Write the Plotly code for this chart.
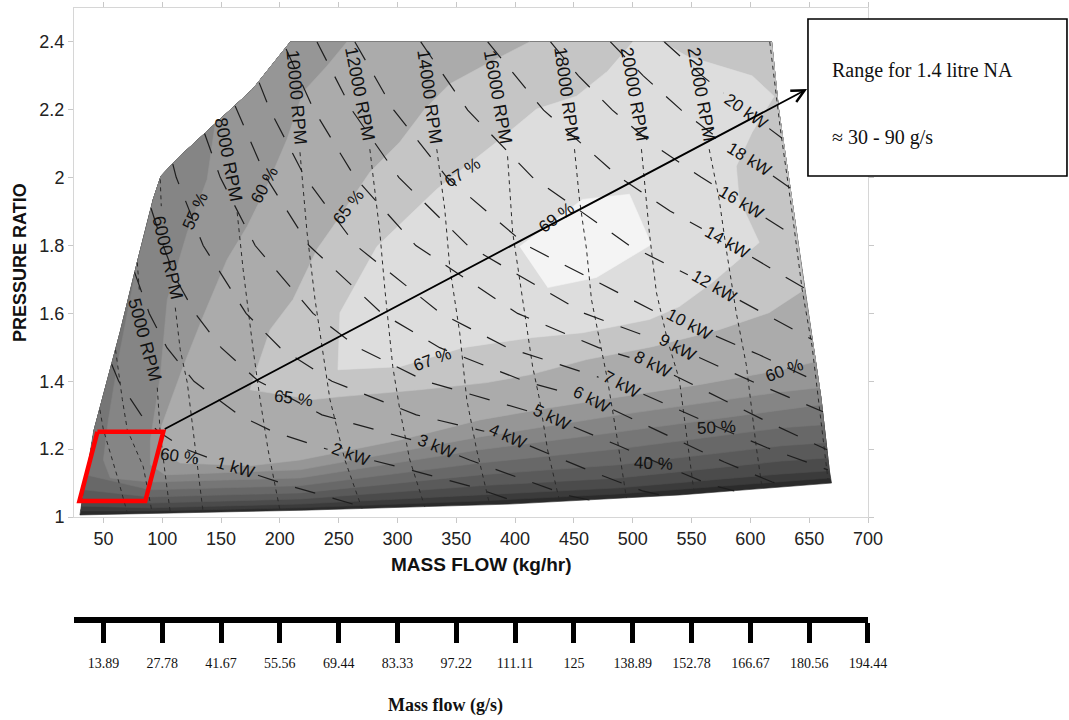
import math
import plotly.graph_objects as go

SANS = "Liberation Sans, Arial, sans-serif"
SERIF = "Liberation Serif, Times New Roman, serif"

# ---------------- map envelope (mass flow kg/hr, pressure ratio) ----------------
ENV_RIGHT_M = [669, 667, 660, 654, 646, 635, 624, 618]
ENV_RIGHT_PR = [1.10, 1.14, 1.35, 1.49, 1.67, 1.94, 2.20, 2.40]
ENV_LEFT_M = [209, 177, 143, 115, 99, 92.4, 78.8, 64.4, 41.5, 30]
ENV_LEFT_PR = [2.40, 2.261, 2.152, 2.063, 2.005, 1.936, 1.750, 1.546, 1.248, 1.006]
ENV_BOTTOM_M = [30, 220, 395, 540, 669]
ENV_BOTTOM_PR = [1.006, 1.02, 1.038, 1.065, 1.10]

# ---------------- efficiency contour boundaries ----------------
C25_M = [30.6, 89.9, 217.1, 369.9, 488.7, 627.0, 667.8]
C25_PR = [1.018, 1.018, 1.027, 1.047, 1.068, 1.103, 1.115]
C30_M = [31.2, 89.9, 217.1, 369.9, 488.7, 627.0, 667.0]
C30_PR = [1.032, 1.027, 1.038, 1.065, 1.086, 1.127, 1.136]
C35_M = [32.1, 89.9, 217.1, 369.9, 488.7, 627.0, 665.7]
C35_PR = [1.050, 1.041, 1.053, 1.092, 1.115, 1.165, 1.174]
C40_M = [33.8, 89.9, 217.1, 369.9, 488.7, 627.0, 664.3]
C40_PR = [1.080, 1.059, 1.071, 1.124, 1.154, 1.210, 1.219]
C45_M = [35.6, 89.9, 217.1, 369.9, 488.7, 627.0, 662.6]
C45_PR = [1.124, 1.080, 1.092, 1.159, 1.201, 1.263, 1.272]
C50_M = [78.8, 71.2, 62.7, 54.2, 50.0, 55.9, 89.9, 217.1, 369.9, 488.7, 627.0, 660.6]
C50_PR = [1.750, 1.611, 1.464, 1.286, 1.168, 1.115, 1.103, 1.115, 1.198, 1.251, 1.316, 1.331]
C55_M = [145.0, 138.2, 121.3, 104.3, 98.3, 89.9, 89.9, 102.6, 217.1, 369.9, 488.7, 627.0, 658.7]
C55_PR = [2.158, 1.995, 1.839, 1.641, 1.413, 1.227, 1.154, 1.124, 1.139, 1.236, 1.301, 1.369, 1.381]
C60_M = [257.0, 240.1, 219.7, 206.1, 189.1, 172.2, 155.2, 134.8, 117.8, 98.3, 100.1, 115.3,
         174.7, 217.1, 302.0, 369.9, 429.3, 488.7, 556.5, 627.0, 655.6]
C60_PR = [2.400, 2.329, 2.252, 2.113, 1.975, 1.856, 1.759, 1.591, 1.443, 1.257, 1.192, 1.159,
          1.151, 1.168, 1.227, 1.286, 1.322, 1.354, 1.390, 1.434, 1.458]
C65_M = [412.3, 375.8, 344.4, 323.2, 302.0, 276.5, 245.2, 231.6, 211.2, 191.7, 176.4, 174.7,
         228.2, 249.4, 319.0, 375.8, 412.3, 460.7, 516.7, 573.5, 615.9, 645.7]
C65_PR = [2.400, 2.335, 2.276, 2.202, 2.105, 2.016, 1.856, 1.789, 1.641, 1.552, 1.396, 1.375,
          1.346, 1.354, 1.375, 1.396, 1.419, 1.464, 1.502, 1.552, 1.602, 1.670]
C67_M = [499.7, 525.1, 545.5, 601.5, 620.2, 601.5, 588.0, 590.5, 607.5, 590.5, 567.6, 539.6, 514.1,
         457.3, 414.8, 355.4, 302.0, 249.4, 251.1, 282.5, 333.4, 384.3, 418.2, 452.2, 477.6]
C67_PR = [2.400, 2.400, 2.359, 2.300, 2.240, 2.134, 2.034, 1.936, 1.809, 1.759, 1.691, 1.620, 1.582,
          1.543, 1.529, 1.499, 1.443, 1.434, 1.602, 1.797, 1.966, 2.105, 2.202, 2.240, 2.311]
C69_M = [403.8, 457.3, 497.2, 515.8, 469.2, 427.6]
C69_PR = [1.797, 1.936, 1.951, 1.803, 1.706, 1.676]

BAND_COLORS = ["#2b2b2b", "#3b3b3b", "#4b4b4b", "#5a5a5a", "#686868", "#767676",
               "#858585", "#969696", "#ababab", "#c5c5c5", "#dddddd", "#f4f4f4"]

# ---------------- speed lines ----------------
SPEED_LINES = {
    "A": ([47, 50, 61.9, 70.3], [1.316, 1.257, 1.118, 1.012]),
    "B": ([60.3, 66.1, 70.3, 83.9, 91.5], [1.493, 1.346, 1.257, 1.148, 1.012]),
    "5000": ([78.8, 80.5, None, 95.8, 98.3, 102.6, 106.9], [1.750, 1.670, None, 1.381, 1.248, 1.124, 1.012]),
    "6000": ([98.3, 99.2, None, 111.1, 115.3, 121.3, 126.4, 130.6, 134.8],
             [1.995, 1.916, None, 1.617, 1.493, 1.396, 1.248, 1.139, 1.013]),
    "8000": ([163.7, 168.8, 177.3, 183.2, 190, 200.2], [1.898, 1.729, 1.493, 1.346, 1.198, 1.018]),
    "10000": ([217.1, 223.1, 229.9, 242.6, 255.3, 269.8], [2.075, 1.839, 1.641, 1.346, 1.168, 1.025]),
    "12000": ([276.5, 285, 289.3, 296, 302, 310.5, 323.2], [2.084, 1.839, 1.670, 1.443, 1.316, 1.168, 1.030]),
    "14000": ([333.4, 340.2, 344.4, 352.9, 358.9, 367.3, 378.4], [2.084, 1.907, 1.738, 1.543, 1.346, 1.198, 1.036]),
    "16000": ([393.6, 397.9, 406.4, 414.9, 420.8, 427.6, 437.8], [2.063, 1.839, 1.641, 1.443, 1.346, 1.198, 1.046]),
    "18000": ([450.5, 454.7, 460.7, 464.9, 471.7, 478.5, 487.0, 494.6],
              [2.084, 1.936, 1.789, 1.641, 1.523, 1.405, 1.227, 1.056]),
    "20000": ([507.4, 514.1, 520.1, 529.4, 539.6, 546.4, 552.3], [2.084, 1.839, 1.662, 1.523, 1.405, 1.227, 1.068]),
    "22000": ([565, 573.5, 579.5, 588, 596.5, 605, 610], [2.084, 1.936, 1.789, 1.602, 1.449, 1.207, 1.084]),
    "24000": ([616.5, 625.5, 635.5, 644, 652.5, 661, 666], [2.40, 2.143, 1.898, 1.671, 1.502, 1.257, 1.109]),
}
RPM_LABEL_TEXT = ["5000 RPM", "6000 RPM", "8000 RPM", "10000 RPM", "12000 RPM", "14000 RPM",
                  "16000 RPM", "18000 RPM", "20000 RPM", "22000 RPM"]
RPM_LABEL_M = [85.6, 104.3, 156, 214, 268, 327.5, 385.2, 443.7, 501.4, 558.3]
RPM_LABEL_PR = [1.523, 1.765, 2.054, 2.237, 2.246, 2.238, 2.237, 2.246, 2.246, 2.246]
RPM_LABEL_ANGLE = [75, 77, 79, 85, 79, 82, 80, 82, 80, 80]

# ---------------- power lines (kW) ----------------
POWER_LINES = {
    1: ([57.0, 63.0, 82.0, 97.0, 119.0, 162.0, 211.2, 273.2],
        [1.450, 1.400, 1.301, 1.251, 1.201, 1.145, 1.089, 1.027]),
    2: ([76.5, 89.0, 104.0, 127.0, 165.0, 194.5, 239.0, 260.4, 310.5, 363.9, 403.8],
        [1.721, 1.600, 1.499, 1.400, 1.301, 1.251, 1.201, 1.183, 1.139, 1.089, 1.041]),
    3: ([90.5, 100.7, 111.9, 128.0, 150.1, 182.0, 235.8, 333.4, 361.4, 403.8, 446.2, 463.2],
        [1.910, 1.800, 1.700, 1.600, 1.499, 1.400, 1.301, 1.207, 1.168, 1.115, 1.062, 1.050]),
    4: ([109.0, 111.9, 134.8, 171.3, 200.2, 244.3, 316.0, 393.6, 425.0, 465.8, 508.2, 526.9],
        [2.040, 2.001, 1.800, 1.600, 1.499, 1.400, 1.301, 1.236, 1.192, 1.133, 1.077, 1.062]),
    5: ([136.0, 149.3, 179.0, 228.2, 266.4, 324.1, 431.0, 486.2, 525.2, 565.9, 586.3],
        [2.130, 2.001, 1.800, 1.600, 1.499, 1.400, 1.292, 1.213, 1.154, 1.095, 1.077]),
    6: ([162.0, 188.3, 224.8, 286.7, 335.9, 408.0, 464.9, 498.0, 537.0, 577.8, 618.5, 632.9],
        [2.211, 2.001, 1.800, 1.600, 1.499, 1.400, 1.346, 1.292, 1.227, 1.162, 1.103, 1.092]),
    7: ([182.4, 191.7, 221.4, 264.7, 336.8, 393.6, 490.4, 535.4, 573.5, 614.3, 665.9],
        [2.280, 2.199, 2.001, 1.800, 1.600, 1.499, 1.390, 1.322, 1.263, 1.204, 1.139]),
    8: ([205.3, 229.0, 263.8, 315.6, 402.1, 470.9, 516.7, 574.4, 614.3, 665.2],
        [2.379, 2.199, 2.001, 1.800, 1.600, 1.499, 1.449, 1.351, 1.281, 1.198]),
    9: ([231.6, 261.3, 301.1, 359.7, 459.0, 537.9, 607.5, 661.8],
        [2.400, 2.199, 2.001, 1.800, 1.600, 1.499, 1.390, 1.310]),
    10: ([263.8, 296.9, 341.9, 409.8, 521.8, 548.1, 607.5, 658.4],
         [2.400, 2.199, 2.001, 1.800, 1.600, 1.567, 1.478, 1.396]),
    12: ([319.8, 359.7, 414.8, 497.2, 554.9, 569.3, 652.4],
         [2.400, 2.199, 2.001, 1.800, 1.700, 1.679, 1.523]),
    14: ([376.7, 424.2, 488.7, 532.0, 580.3, 646.5],
         [2.400, 2.199, 2.001, 1.901, 1.809, 1.673]),
    16: ([430.1, 453.9, 482.7, 516.7, 558.3, 592.2, 638.9],
         [2.400, 2.300, 2.199, 2.099, 2.001, 1.927, 1.824]),
    18: ([481.0, 509.0, 541.3, 578.6, 599.0, 634.6],
         [2.400, 2.300, 2.199, 2.100, 2.054, 1.968]),
    20: ([526.9, 559.1, 596.4, 627.0],
         [2.400, 2.300, 2.196, 2.116]),
}
KW_LABEL_TEXT = ["1 kW", "2 kW", "3 kW", "4 kW", "5 kW", "6 kW", "7 kW", "8 kW", "9 kW",
                 "10 kW", "12 kW", "14 kW", "16 kW", "18 kW", "20 kW"]
KW_LABEL_M = [162.0, 260.4, 333.4, 393.6, 431.0, 464.9, 490.4, 516.7, 537.9, 548.1, 569.3, 580.3, 592.2, 599.0, 596.4]
KW_LABEL_PR = [1.145, 1.183, 1.207, 1.236, 1.292, 1.346, 1.390, 1.449, 1.499, 1.567, 1.679, 1.809, 1.927, 2.054, 2.196]
KW_LABEL_ANGLE = [16, 20, 22, 24, 26, 27, 28, 27, 28, 28, 30, 30, 31, 32, 35]

# ---------------- efficiency labels ----------------
EFF_TEXT = ["55 %", "60 %", "65 %", "67 %", "69 %", "67 %", "65 %", "60 %", "60 %", "50 %", "40 %"]
EFF_M = [128, 186.6, 258.0, 355.4, 435.2, 330, 212, 114.5, 628.7, 571, 517.5]
EFF_PR = [1.901, 1.978, 1.913, 2.016, 1.883, 1.464, 1.348, 1.177, 1.431, 1.263, 1.159]
EFF_ANGLE = [-66, -62, -52, -34, -36, -20, 8, 8, -20, -3, 2]

# ---------------- highlighted range & arrow ----------------
RED_BOX_M = [44.9, 100.9, 85.6, 29.6, 44.9]
RED_BOX_PR = [1.251, 1.251, 1.047, 1.047, 1.251]
ARROW_FROM = (100.9, 1.257)
ARROW_TO = (648.2, 2.261)
NOTE_LINES = ["Range for 1.4 litre NA", "≈ 30 - 90 g/s"]

# ---------------- secondary axis (g/s) ----------------
GS_VALUES = [13.89, 27.78, 41.67, 55.56, 69.44, 83.33, 97.22, 111.11, 125, 138.89, 152.78, 166.67, 180.56, 194.44]
GS_LABELS = ["13.89", "27.78", "41.67", "55.56", "69.44", "83.33", "97.22", "111.11", "125",
             "138.89", "152.78", "166.67", "180.56", "194.44"]
KGH_PER_GS = 3.6

X_RANGE = [25, 700]
Y_RANGE = [1, 2.5]
X_TICKS = list(range(50, 701, 50))
Y_TICKS = [1, 1.2, 1.4, 1.6, 1.8, 2, 2.2, 2.4]

FIG_W, FIG_H = 1069, 720
MARGIN = dict(l=74, r=201, t=8, b=5)
Y_DOMAIN = [0.28006, 1]
PLOT_W = FIG_W - MARGIN["l"] - MARGIN["r"]
PLOT_H = (FIG_H - MARGIN["t"] - MARGIN["b"]) * (Y_DOMAIN[1] - Y_DOMAIN[0])
SX = PLOT_W / (X_RANGE[1] - X_RANGE[0])
SY = PLOT_H / (Y_RANGE[1] - Y_RANGE[0])

fig = go.Figure()


def add_poly(ms, prs, color):
    fig.add_trace(go.Scatter(x=ms, y=prs, mode="lines", fill="toself", fillcolor=color,
                             line=dict(width=0.6, color=color), hoverinfo="skip", showlegend=False))


def level_polygon(cm, cpr):
    xs, ys = list(cm), list(cpr)
    for m, p in zip(ENV_RIGHT_M, ENV_RIGHT_PR):
        if p > cpr[-1]:
            xs.append(m)
            ys.append(p)
    for m, p in zip(ENV_LEFT_M, ENV_LEFT_PR):
        if p > cpr[0]:
            xs.append(m)
            ys.append(p)
    return xs, ys


def cut_at_label(ms, prs, lm, lpr, gap_px):
    """Break a polyline around the vertex nearest the label so the label sits in a gap."""
    k = min(range(len(ms)), key=lambda i: ((ms[i] - lm) * SX) ** 2 + ((prs[i] - lpr) * SY) ** 2)

    def walk(direction):
        dist = 0.0
        i = k
        while 0 <= i + direction < len(ms):
            j = i + direction
            dx = (ms[j] - ms[i]) * SX
            dy = (prs[j] - prs[i]) * SY
            seg = math.hypot(dx, dy)
            if dist + seg >= gap_px:
                f = (gap_px - dist) / seg
                return j, ms[i] + f * (ms[j] - ms[i]), prs[i] + f * (prs[j] - prs[i])
            dist += seg
            i = j
        return None

    before = walk(-1)
    after = walk(+1)
    xs, ys = [], []
    if before:
        jb, bm, bp = before
        xs += list(ms[:jb + 1]) + [bm]
        ys += list(prs[:jb + 1]) + [bp]
    xs.append(None)
    ys.append(None)
    if after:
        ja, am, ap = after
        xs += [am] + list(ms[ja:])
        ys += [ap] + list(prs[ja:])
    return xs, ys


add_poly(ENV_RIGHT_M + ENV_LEFT_M + ENV_BOTTOM_M, ENV_RIGHT_PR + ENV_LEFT_PR + ENV_BOTTOM_PR, BAND_COLORS[0])
levels = [(C25_M, C25_PR), (C30_M, C30_PR), (C35_M, C35_PR), (C40_M, C40_PR), (C45_M, C45_PR),
          (C50_M, C50_PR), (C55_M, C55_PR), (C60_M, C60_PR), (C65_M, C65_PR)]
for i, (cm, cpr) in enumerate(levels):
    xs, ys = level_polygon(cm, cpr)
    add_poly(xs, ys, BAND_COLORS[i + 1])
add_poly(C67_M, C67_PR, BAND_COLORS[10])
add_poly(C69_M, C69_PR, BAND_COLORS[11])

for name, (ms, prs) in SPEED_LINES.items():
    fig.add_trace(go.Scatter(x=ms, y=prs, mode="lines", line=dict(color="#2a2a2a", width=1, dash="4px,4px"),
                             hoverinfo="skip", showlegend=False))

for idx, (kw, (ms, prs)) in enumerate(POWER_LINES.items()):
    gap = 29 if kw >= 10 else 24
    xs, ys = cut_at_label(ms, prs, KW_LABEL_M[idx], KW_LABEL_PR[idx], gap)
    fig.add_trace(go.Scatter(x=xs, y=ys, mode="lines", line=dict(color="#1e1e1e", width=1.2, dash="21px,18px"),
                             hoverinfo="skip", showlegend=False))

fig.add_trace(go.Scatter(x=RED_BOX_M, y=RED_BOX_PR, mode="lines", line=dict(color="#ff0000", width=4.5),
                         hoverinfo="skip", showlegend=False))

# invisible trace that carries the g/s axis
fig.add_trace(go.Scatter(x=[v * KGH_PER_GS for v in GS_VALUES], y=[0] * len(GS_VALUES), xaxis="x2", yaxis="y2",
                         mode="markers", marker=dict(opacity=0), hoverinfo="skip", showlegend=False))

ann = []
for t, m, p, a in zip(RPM_LABEL_TEXT, RPM_LABEL_M, RPM_LABEL_PR, RPM_LABEL_ANGLE):
    ann.append(dict(x=m, y=p, text=t, showarrow=False, textangle=a, font=dict(family=SANS, size=18, color="#111")))
for t, m, p, a in zip(KW_LABEL_TEXT, KW_LABEL_M, KW_LABEL_PR, KW_LABEL_ANGLE):
    ann.append(dict(x=m, y=p, text=t, showarrow=False, textangle=a, font=dict(family=SANS, size=17, color="#111")))
for t, m, p, a in zip(EFF_TEXT, EFF_M, EFF_PR, EFF_ANGLE):
    ann.append(dict(x=m, y=p, text=t, showarrow=False, textangle=a, font=dict(family=SANS, size=17, color="#111")))

ann.append(dict(x=ARROW_TO[0], y=ARROW_TO[1], ax=ARROW_FROM[0], ay=ARROW_FROM[1], axref="x", ayref="y",
                xref="x", yref="y", text="", showarrow=True, arrowhead=5, arrowsize=1.4, arrowwidth=1.8,
                arrowcolor="black", standoff=0, startstandoff=0))

ann.append(dict(xref="paper", yref="paper", x=0.9521, y=0.9123, xanchor="left", yanchor="middle",
                text=NOTE_LINES[0], showarrow=False, font=dict(family=SERIF, size=20, color="#111")))
ann.append(dict(xref="paper", yref="paper", x=0.9521, y=0.8175, xanchor="left", yanchor="middle",
                text=NOTE_LINES[1], showarrow=False, font=dict(family=SERIF, size=20, color="#111")))

ann.append(dict(xref="paper", yref="paper", x=0.5126, y=0.2122, xanchor="center", yanchor="middle",
                text="<b>MASS FLOW (kg/hr)</b>", showarrow=False, font=dict(family=SANS, size=19, color="#111")))
ann.append(dict(xref="paper", yref="paper", x=-0.068, y=0.6393, xanchor="center", yanchor="middle",
                text="<b>PRESSURE RATIO</b>", textangle=-90, showarrow=False,
                font=dict(family=SANS, size=18, color="#111")))
ann.append(dict(xref="paper", yref="paper", x=0.4673, y=0.0141, xanchor="center", yanchor="middle",
                text="<b>Mass flow (g/s)</b>", showarrow=False, font=dict(family=SERIF, size=18, color="#111")))

shapes = [dict(type="rect", xref="paper", yref="paper", x0=0.9244, x1=1.2506, y0=0.7624, y1=0.9844,
               line=dict(color="black", width=1.6), fillcolor="white", layer="above")]

fig.update_layout(
    width=FIG_W, height=FIG_H,
    margin=dict(MARGIN, autoexpand=False),
    paper_bgcolor="white", plot_bgcolor="white",
    showlegend=False,
    annotations=ann,
    shapes=shapes,
    xaxis=dict(range=X_RANGE, domain=[0, 1], tickvals=X_TICKS, ticks="outside", ticklen=5, tickcolor="#c8c8c8",
               showline=True, linecolor="#d6d6d6", linewidth=1, mirror="all", showgrid=False, zeroline=False,
               automargin=False, tickfont=dict(family=SANS, size=18, color="#222")),
    yaxis=dict(range=Y_RANGE, domain=Y_DOMAIN, tickvals=Y_TICKS, ticks="outside", ticklen=5,
               tickcolor="#c8c8c8", showline=True, linecolor="#d6d6d6", linewidth=1, mirror="all",
               showgrid=False, zeroline=False, automargin=False,
               tickfont=dict(family=SANS, size=18, color="#222")),
    xaxis2=dict(range=X_RANGE, domain=[0, 1], anchor="y2",
                tickvals=[v * KGH_PER_GS for v in GS_VALUES], ticktext=GS_LABELS,
                ticks="outside", ticklen=20, tickwidth=5, tickcolor="black",
                showline=True, linewidth=6, linecolor="black", showgrid=False, zeroline=False,
                automargin=False, ticklabelstandoff=8, tickfont=dict(family=SERIF, size=14, color="#111")),
    yaxis2=dict(domain=[0.1386, 0.15], range=[0, 1], visible=False, automargin=False),
)

fig.write_html("out.html")
